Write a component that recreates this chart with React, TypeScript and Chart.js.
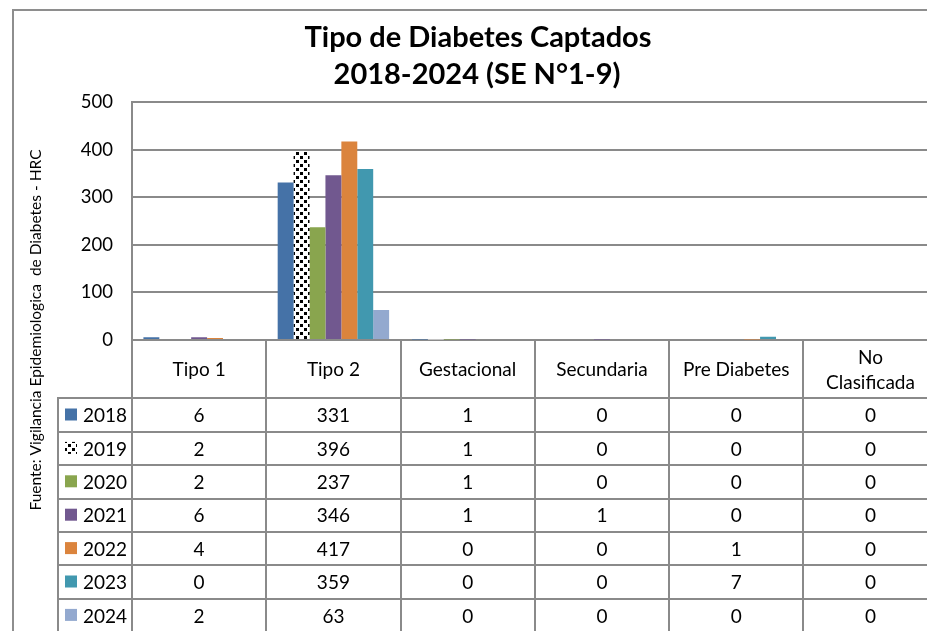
import React, { useEffect, useRef } from "react";
import { Chart, registerables } from "chart.js";

Chart.register(...registerables);

// ---------- data ----------
const categories = ["Tipo 1", "Tipo 2", "Gestacional", "Secundaria", "Pre Diabetes", "No Clasificada"];
const headerLines = [["Tipo 1"], ["Tipo 2"], ["Gestacional"], ["Secundaria"], ["Pre Diabetes"], ["No", "Clasificada"]];
const years = ["2018", "2019", "2020", "2021", "2022", "2023", "2024"];
const v2018 = [6, 331, 1, 0, 0, 0];
const v2019 = [2, 396, 1, 0, 0, 0];
const v2020 = [2, 237, 1, 0, 0, 0];
const v2021 = [6, 346, 1, 1, 0, 0];
const v2022 = [4, 417, 0, 0, 1, 0];
const v2023 = [0, 359, 0, 0, 7, 0];
const v2024 = [2, 63, 0, 0, 0, 0];
const seriesValues = [v2018, v2019, v2020, v2021, v2022, v2023, v2024];
const seriesColors = ["#4572A7", "pattern", "#89A54E", "#71588F", "#DB843D", "#4198AF", "#93A9CF"];
const yMin = 0;
const yMax = 500;
const yStep = 100;
const titleLines = ["Tipo de Diabetes Captados", "2018-2024 (SE N°1-9)"];
const yTitle = "Fuente: Vigilancia Epidemiologica  de Diabetes - HRC";

// ---------- layout / style ----------
const CANVAS_W = 960;
const CANVAS_H = 660;
const GRID = "#8a8a8a";
const FONT = "Lato, 'Open Sans', sans-serif";
const HEADER_H = 58.3;
const ROW_H = 33.4;
const LEGEND_LEFT = 58;

function makePattern(): CanvasPattern | string {
  const tile = document.createElement("canvas");
  tile.width = 8;
  tile.height = 8;
  const t = tile.getContext("2d");
  if (!t) return "#000";
  t.fillStyle = "#ffffff";
  t.fillRect(0, 0, 8, 8);
  t.fillStyle = "#000000";
  t.fillRect(0, 0, 3, 3);
  t.fillRect(4, 4, 3, 3);
  const c = document.createElement("canvas").getContext("2d");
  return (c && c.createPattern(tile, "repeat")) || "#000";
}

const tablePlugin = {
  id: "excelTable",
  beforeDraw(chart: any) {
    const { ctx } = chart;
    ctx.save();
    ctx.fillStyle = "#ffffff";
    ctx.fillRect(0, 0, chart.width, chart.height);
    ctx.restore();
  },
  afterDraw(chart: any) {
    const { ctx, chartArea: ca } = chart;
    const n = categories.length;
    const cw = (ca.right - ca.left) / n;
    const headerTop = ca.bottom;
    const headerBottom = headerTop + HEADER_H;
    const tableBottom = headerBottom + ROW_H * years.length;
    ctx.save();

    // outer frame
    ctx.strokeStyle = "#8e8e8e";
    ctx.lineWidth = 2;
    ctx.beginPath();
    ctx.moveTo(13, chart.height);
    ctx.lineTo(13, 10);
    ctx.lineTo(chart.width, 10);
    ctx.stroke();

    // table grid lines
    ctx.strokeStyle = GRID;
    ctx.lineWidth = 2;
    ctx.beginPath();
    for (let i = 0; i <= n; i++) {
      const x = Math.round(ca.left + i * cw);
      ctx.moveTo(x, headerTop);
      ctx.lineTo(x, tableBottom);
    }
    ctx.moveTo(LEGEND_LEFT, headerBottom);
    ctx.lineTo(LEGEND_LEFT, tableBottom);
    for (let r = 0; r <= years.length; r++) {
      const y = Math.round(headerBottom + r * ROW_H);
      ctx.moveTo(LEGEND_LEFT - 1, y);
      ctx.lineTo(ca.right, y);
    }
    ctx.stroke();

    // header labels
    ctx.fillStyle = "#000";
    ctx.textAlign = "center";
    ctx.textBaseline = "middle";
    ctx.font = `19px ${FONT}`;
    const hc = (headerTop + headerBottom) / 2 + 1;
    headerLines.forEach((lines, i) => {
      const cx = ca.left + (i + 0.5) * cw;
      if (lines.length === 1) {
        ctx.fillText(lines[0], cx, hc);
      } else {
        ctx.fillText(lines[0], cx, hc - 12.3);
        ctx.fillText(lines[1], cx, hc + 12.3);
      }
    });

    // data rows
    years.forEach((yr, r) => {
      const cy = headerBottom + (r + 0.5) * ROW_H + 1;
      const ds = chart.data.datasets[r];
      ctx.fillStyle = ds.backgroundColor;
      ctx.fillRect(65, cy - 7.5, 12, 12);
      ctx.fillStyle = "#000";
      ctx.textAlign = "left";
      ctx.fillText(yr, 83, cy);
      ctx.textAlign = "center";
      seriesValues[r].forEach((v, i) => {
        ctx.fillText(String(v), ca.left + (i + 0.5) * cw, cy);
      });
    });

    // y axis line extension
    ctx.strokeStyle = GRID;
    ctx.beginPath();
    ctx.moveTo(Math.round(ca.left), ca.top);
    ctx.lineTo(Math.round(ca.left), tableBottom);
    ctx.stroke();

    // titles
    ctx.fillStyle = "#000";
    ctx.textAlign = "center";
    ctx.textBaseline = "middle";
    ctx.font = `bold 29px ${FONT}`;
    ctx.fillText(titleLines[0], 478, 38);
    ctx.fillText(titleLines[1], 477, 75);

    // y axis title
    ctx.font = `15.5px ${FONT}`;
    ctx.translate(35.5, 330);
    ctx.rotate(-Math.PI / 2);
    ctx.fillText(yTitle, 0, 0);
    ctx.restore();
  },
};

export default function App() {
  const ref = useRef<HTMLCanvasElement | null>(null);
  useEffect(() => {
    const canvas = ref.current;
    if (!canvas) return;
    const pattern = makePattern();
    const chart = new Chart(canvas, {
      type: "bar",
      data: {
        labels: categories,
        datasets: years.map((y, i) => ({
          label: y,
          data: seriesValues[i],
          backgroundColor: seriesColors[i] === "pattern" ? (pattern as any) : seriesColors[i],
          borderWidth: 0,
          barPercentage: 1,
          categoryPercentage: 0.83,
        })),
      },
      options: {
        animation: false,
        responsive: false,
        devicePixelRatio: 1,
        layout: { padding: { left: 72, top: 102, right: CANVAS_W - 937.6, bottom: CANVAS_H - 340 } },
        plugins: {
          legend: { display: false },
          title: { display: false },
          tooltip: { enabled: false },
        },
        scales: {
          x: { display: false },
          y: {
            min: yMin,
            max: yMax,
            afterFit: (s: any) => {
              s.width = 60;
            },
            ticks: {
              stepSize: yStep,
              padding: 19,
              color: "#000",
              font: { family: FONT, size: 18.5 },
            },
            grid: { color: GRID, lineWidth: 2, drawTicks: false },
            border: { display: true, color: GRID, width: 2 },
          },
        },
      },
      plugins: [tablePlugin],
    });
    return () => chart.destroy();
  }, []);
  return (
    <div style={{ position: "fixed", left: 0, top: 0, width: 927, height: 631, overflow: "hidden", background: "#fff" }}>
      <canvas ref={ref} width={CANVAS_W} height={CANVAS_H} style={{ width: CANVAS_W, height: CANVAS_H, display: "block" }} />
    </div>
  );
}
